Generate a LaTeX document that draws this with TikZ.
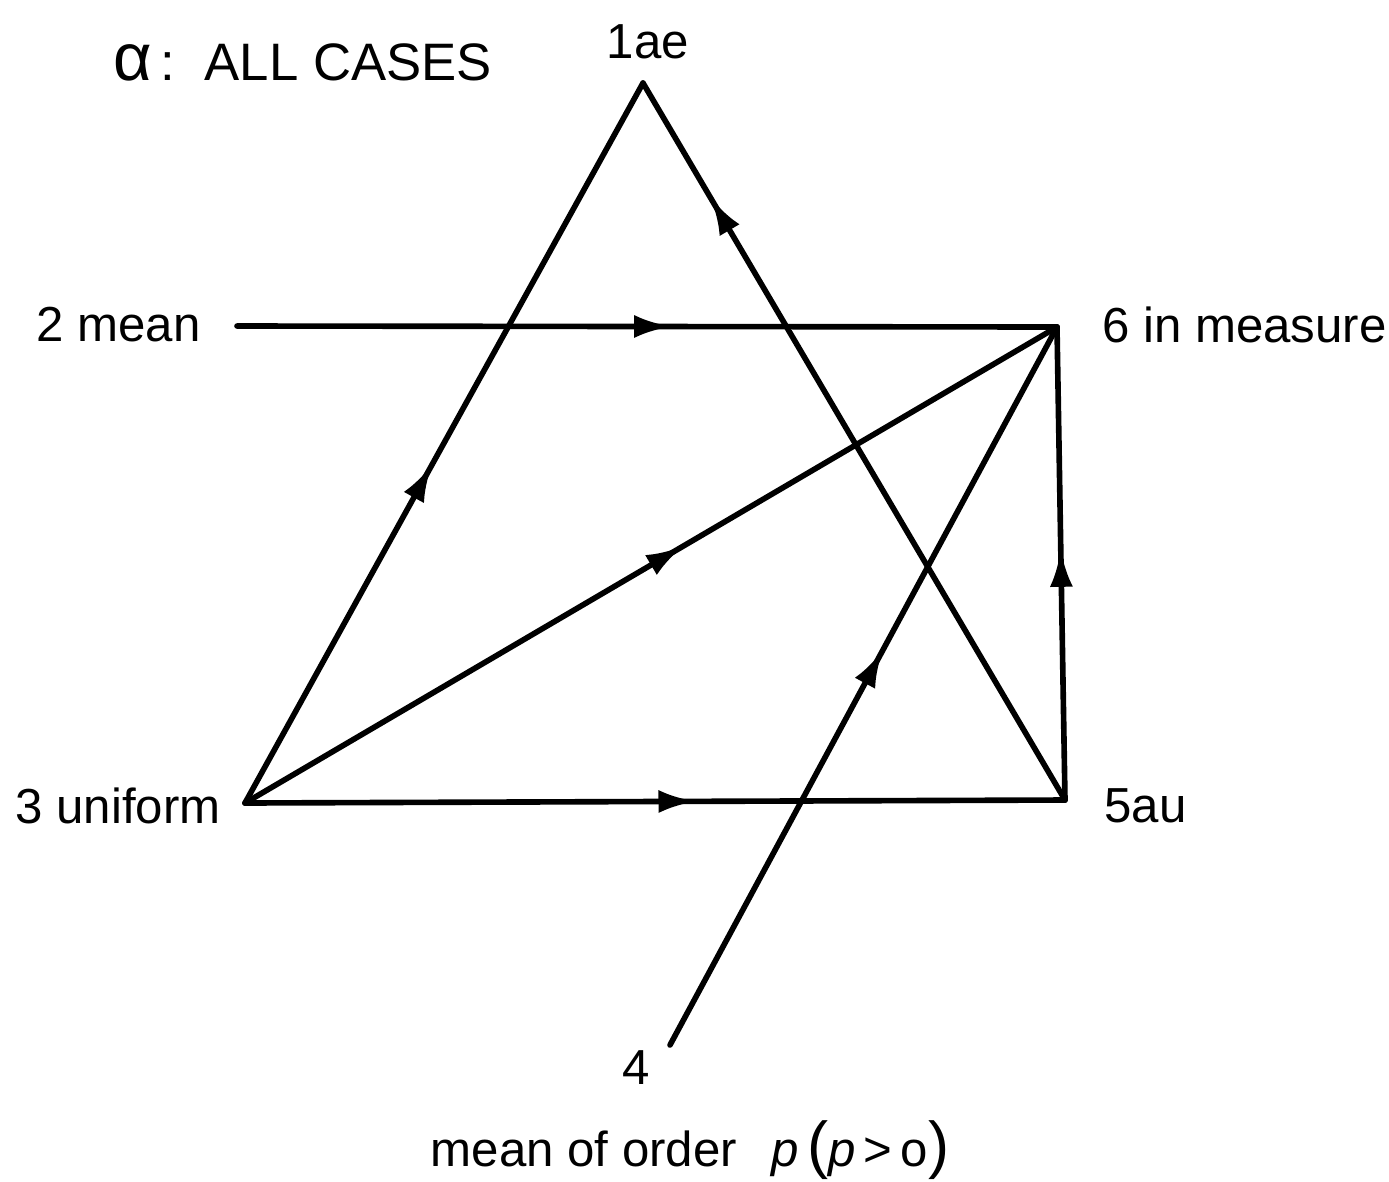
\documentclass[tikz,border=0pt]{standalone}
\usepackage{fontspec}
\setmainfont{Liberation Sans}
\usetikzlibrary{arrows.meta,decorations.markings}
\definecolor{ink}{RGB}{0,0,0}
\tikzset{
  >={Latex[length=7.5mm,width=4.6mm]},
  edge/.style={draw=ink,line width=3.2pt,line cap=round,line join=round,
    postaction={decorate},
    decoration={markings,mark=at position #1 with {\arrow{>}}}},
  edge/.default=0.5,
  lbl/.style={text=ink,font=\fontsize{28}{32}\selectfont,inner sep=0pt},
}

\begin{document}
\begin{tikzpicture}[x=0.02cm,y=-0.02cm]
    \useasboundingbox (0,0) rectangle (1389,1181);
    % points of the scheme
    \coordinate (ae) at (643,83);
    \coordinate (mean) at (237,326);
    \coordinate (unif) at (245,803);
    \coordinate (order) at (670,1045);
    \coordinate (au) at (1065,800);
    \coordinate (meas) at (1057,327);
    % labels
    \node[lbl,anchor=west,font=\fontsize{30}{34}\selectfont] (title) at (113,62)
      {{\fontsize{38}{38}\selectfont α}\,:\ \ ALL CASES};
    \node[lbl] (l1) at (648,42) {1ae};
    \node[lbl,anchor=east] (l2) at (201,325) {2 mean};
    \node[lbl,anchor=east] (l3) at (221,806) {3 uniform};
    \node[lbl] (l4) at (636,1068) {4};
    \node[lbl,anchor=west] (l5) at (1104,806) {5au};
    \node[lbl,anchor=west] (l6) at (1102,325) {6 in measure};
    \node[lbl] (l4txt) at (690,1150) {mean of order\hspace{0.7em}\textit{p}\,{\fontsize{36}{36}\selectfont(}\textit{p}\,>\,o{\fontsize{36}{36}\selectfont)}};
    % implications
    \draw[edge=0.47] (unif) -- (ae);
    \draw[edge=0.84] (au) -- (ae);
    \draw[edge=0.53] (mean) -- (meas);
    \draw[edge=0.54] (unif) -- (meas);
    \draw[edge=0.55] (order) -- (meas);
    \draw[edge=0.53] (au) -- (meas);
    \draw[edge=0.55] (unif) -- (au);
\end{tikzpicture}
\end{document}
